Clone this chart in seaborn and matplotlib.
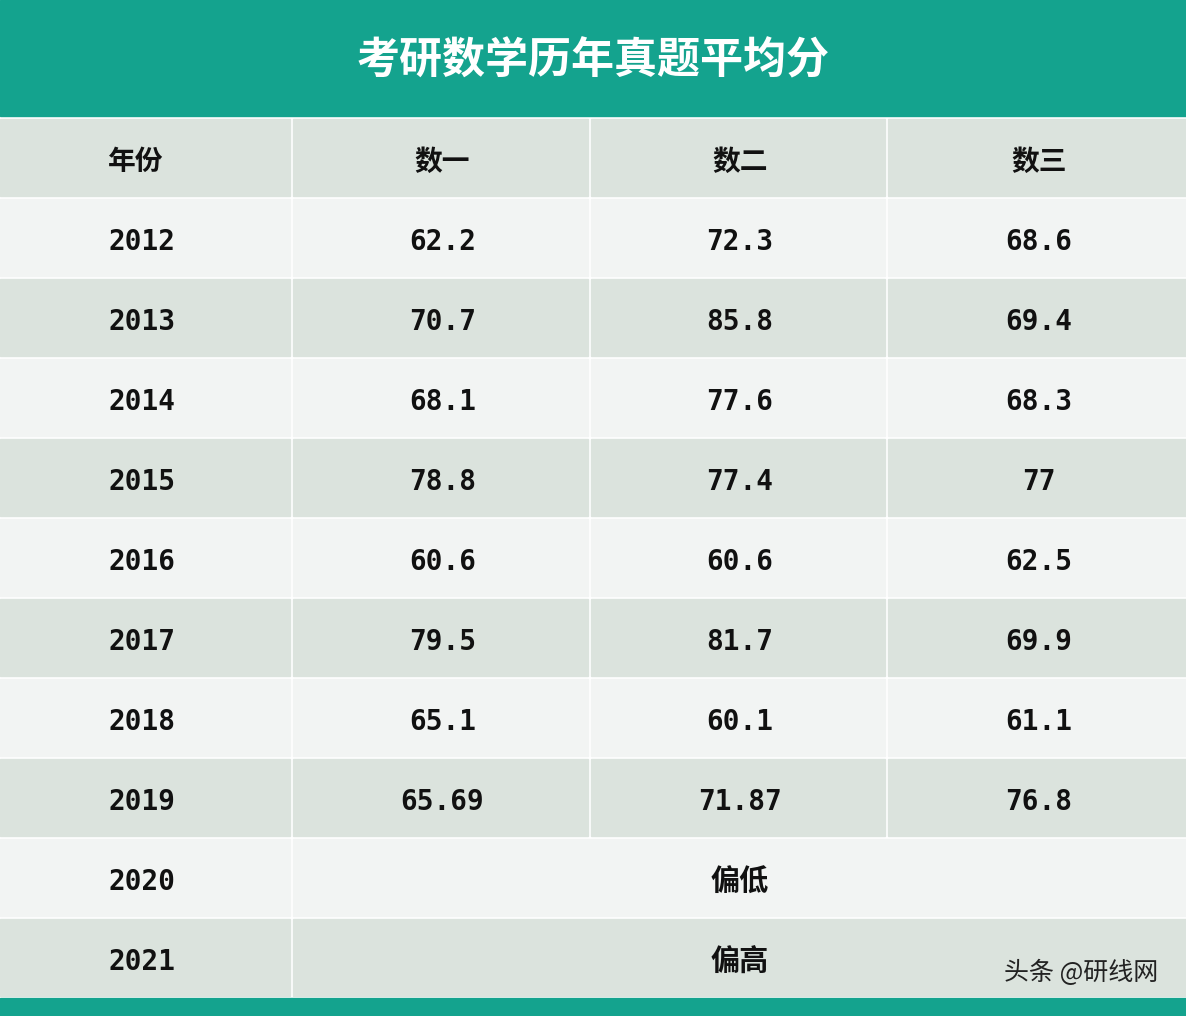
import matplotlib
matplotlib.use("Agg")
import matplotlib.pyplot as plt
import seaborn as sns
from matplotlib.patches import Rectangle

sns.set_theme(style="white")
plt.rcParams['font.family'] = ['Noto Sans CJK SC', 'DejaVu Sans']

title = "考研数学历年真题平均分"
headers = ["年份", "数一", "数二", "数三"]
years = ["2012", "2013", "2014", "2015", "2016", "2017", "2018", "2019", "2020", "2021"]
math1 = ["62.2", "70.7", "68.1", "78.8", "60.6", "79.5", "65.1", "65.69"]
math2 = ["72.3", "85.8", "77.6", "77.4", "60.6", "81.7", "60.1", "71.87"]
math3 = ["68.6", "69.4", "68.3", "77", "62.5", "69.9", "61.1", "76.8"]
merged = {"2020": "偏低", "2021": "偏高"}

W, H = 1186, 1016
fig = plt.figure(figsize=(W/100, H/100), dpi=100)
ax = fig.add_axes([0, 0, 1, 1])
ax.set_xlim(0, W); ax.set_ylim(H, 0); ax.axis("off")

teal = "#14a38e"
c_dark = "#dbe3dd"
c_light = "#f2f4f3"
mono = ['DejaVu Sans Mono']
ax.add_patch(Rectangle((0, 0), W, 116, color=teal))
ax.add_patch(Rectangle((0, 998), W, 18, color=teal))
ax.text(W/2, 60, title, color="white", fontsize=31, fontweight="bold", ha="center", va="center")

cols = [(0, 290), (293, 588), (591, 885), (888, W)]
row_top, row_h, gap = 119, 80, 3
rows = [headers] + [[y, a, b, c] for y, a, b, c in zip(years, math1, math2, math3)] + \
       [[y, merged[y]] for y in years[8:]]
for i, r in enumerate(rows):
    y0 = row_top + i * row_h
    col = c_dark if i % 2 == 0 else c_light
    yc = y0 + (row_h - gap) / 2 + 4
    fam = ['Noto Sans CJK SC'] if i == 0 else mono
    if len(r) == 4:
        for j, (x0, x1) in enumerate(cols):
            ax.add_patch(Rectangle((x0, y0), x1 - x0, row_h - gap, color=col))
            if j == 0:
                ax.text(108, yc, r[j], fontsize=20, fontweight="bold", family=fam, ha="left", va="center", color="#111")
            else:
                ax.text((x0 + x1) / 2 + 2, yc, r[j], fontsize=20, fontweight="bold", family=fam, ha="center", va="center", color="#111")
    else:
        x0, x1 = cols[0]
        ax.add_patch(Rectangle((x0, y0), x1 - x0, row_h - gap, color=col))
        ax.add_patch(Rectangle((cols[1][0], y0), W - cols[1][0], row_h - gap, color=col))
        ax.text(108, yc, r[0], fontsize=20, fontweight="bold", family=mono, ha="left", va="center", color="#111")
        ax.text(740, yc, r[1], fontsize=21, fontweight="bold", ha="center", va="center", color="#111")

ax.text(1158, 973, "头条 @研线网", fontsize=18, ha="right", va="center", color="#222")
fig.savefig("out.png", dpi=100, facecolor="white")
